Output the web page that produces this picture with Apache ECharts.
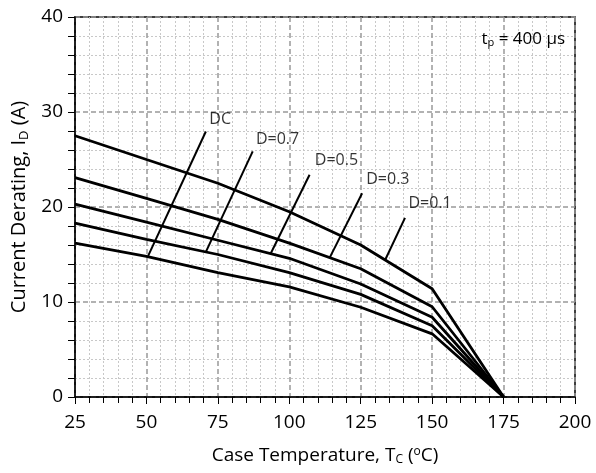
<!DOCTYPE html>
<html><head><meta charset="utf-8">
<script src="https://cdn.jsdelivr.net/npm/echarts@6/dist/echarts.min.js"></script>
<style>html,body{margin:0;padding:0;background:#fff}#c{width:596px;height:473px}</style>
</head><body><div id="c"></div>
<script>
var temps = [25, 50, 75, 100, 125, 150, 175];
var d01 = [27.5, 25.0, 22.5, 19.5, 16.0, 11.4, 0];
var d03 = [23.1, 20.9, 18.7, 16.2, 13.5, 9.5, 0];
var d05 = [20.3, 18.4, 16.5, 14.6, 11.9, 8.4, 0];
var d07 = [18.3, 16.6, 15.0, 13.1, 10.8, 7.5, 0];
var dDC = [16.2, 14.8, 13.1, 11.6, 9.45, 6.65, 0];
var xTicks = [25, 50, 75, 100, 125, 150, 175, 200];
var yTicks = [0, 10, 20, 30, 40];
// annotations: label text, label position, leader top, leader bottom (data units)
var labelNames = ['DC', 'D=0.7', 'D=0.5', 'D=0.3', 'D=0.1'];
var labelPos = [[75.8, 29.2], [95.9, 27.1], [116.5, 24.95], [134.5, 22.85], [149.3, 20.4]];
var leaderTop = [[70.8, 27.95], [87.2, 25.85], [107.1, 23.4], [125.5, 21.45], [140.5, 18.85]];
var leaderBottom = [[50.6, 14.85], [70.85, 15.3], [93.5, 15.1], [114.2, 14.7], [133.5, 14.4]];

var FONT = 'Open Sans';
var curves = [d01, d03, d05, d07, dDC];
var series = curves.map(function (arr) {
  return {
    type: 'line', symbol: 'none', silent: true,
    lineStyle: { color: '#000', width: 2.8 },
    data: temps.map(function (t, i) { return [t, arr[i]]; }),
    z: 5
  };
});
leaderTop.forEach(function (p, i) {
  series.push({
    type: 'line', symbol: 'none', silent: true,
    lineStyle: { color: '#000', width: 2 },
    data: [p, leaderBottom[i]], z: 6
  });
});
series.push({
  type: 'scatter', symbolSize: 0, silent: true,
  data: labelPos.map(function (p, i) { return { name: labelNames[i], value: p }; }),
  label: { show: true, position: 'inside', formatter: '{b}', color: '#000', fontFamily: FONT, fontSize: 16 },
  z: 7
});

var chart = echarts.init(document.getElementById('c'), null, { renderer: 'canvas' });
chart.setOption({
  animation: false,
  backgroundColor: '#fff',
  grid: { left: 75, right: 21, top: 17, bottom: 76, show: true, borderColor: '#000', borderWidth: 1.5, backgroundColor: 'transparent' },
  xAxis: {
    type: 'value', min: xTicks[0], max: xTicks[xTicks.length - 1], interval: 25,
    name: 'Case Temperature, T{sub|C} ({sup|o}C)', nameLocation: 'middle', nameGap: 49,
    nameTextStyle: { fontFamily: FONT, fontSize: 19, color: '#000',
      rich: { sub: { fontSize: 12, verticalAlign: 'bottom', padding: [8, 0, 0, 0], fontFamily: FONT },
              sup: { fontSize: 12, verticalAlign: 'top', padding: [0, 0, 8, 0], fontFamily: FONT } } },
    axisLine: { lineStyle: { color: '#000', width: 1.5 } },
    axisTick: { show: true, inside: false, length: 7, lineStyle: { color: '#000', width: 1 } },
    minorTick: { show: true, splitNumber: 5, length: 6, lineStyle: { color: '#000', width: 1 } },
    axisLabel: { fontFamily: FONT, fontSize: 19, color: '#000', margin: 16 },
    splitLine: { show: true, lineStyle: { color: '#999', type: [5, 3], width: 1.5 } },
    minorSplitLine: { show: true, lineStyle: { color: '#c8c8c8', type: [2, 2], width: 1 } }
  },
  yAxis: {
    type: 'value', min: yTicks[0], max: yTicks[yTicks.length - 1], interval: 10,
    name: 'Current Derating, I{sub|D} (A)', nameLocation: 'middle', nameGap: 42,
    nameTextStyle: { fontFamily: FONT, fontSize: 20, color: '#000',
      rich: { sub: { fontSize: 13, verticalAlign: 'bottom', padding: [9, 0, 0, 0], fontFamily: FONT } } },
    axisLine: { show: true, lineStyle: { color: '#000', width: 1.5 } },
    axisTick: { show: true, inside: false, length: 7, lineStyle: { color: '#000', width: 1 } },
    minorTick: { show: true, splitNumber: 5, length: 7, lineStyle: { color: '#000', width: 1 } },
    axisLabel: { fontFamily: FONT, fontSize: 19, color: '#000', margin: 12 },
    splitLine: { show: true, lineStyle: { color: '#999', type: [5, 3], width: 1.5 } },
    minorSplitLine: { show: true, lineStyle: { color: '#c8c8c8', type: [2, 2], width: 1 } }
  },
  graphic: [{
    type: 'text', right: 31, top: 31, z: 10,
    style: { text: 't{sub|p} = 400 µs', fill: '#000', font: '17px "' + FONT + '"',
      rich: { sub: { fontSize: 11, verticalAlign: 'bottom', padding: [6, 0, 0, 0], fontFamily: FONT } } }
  }],
  series: series
});
</script></body></html>
